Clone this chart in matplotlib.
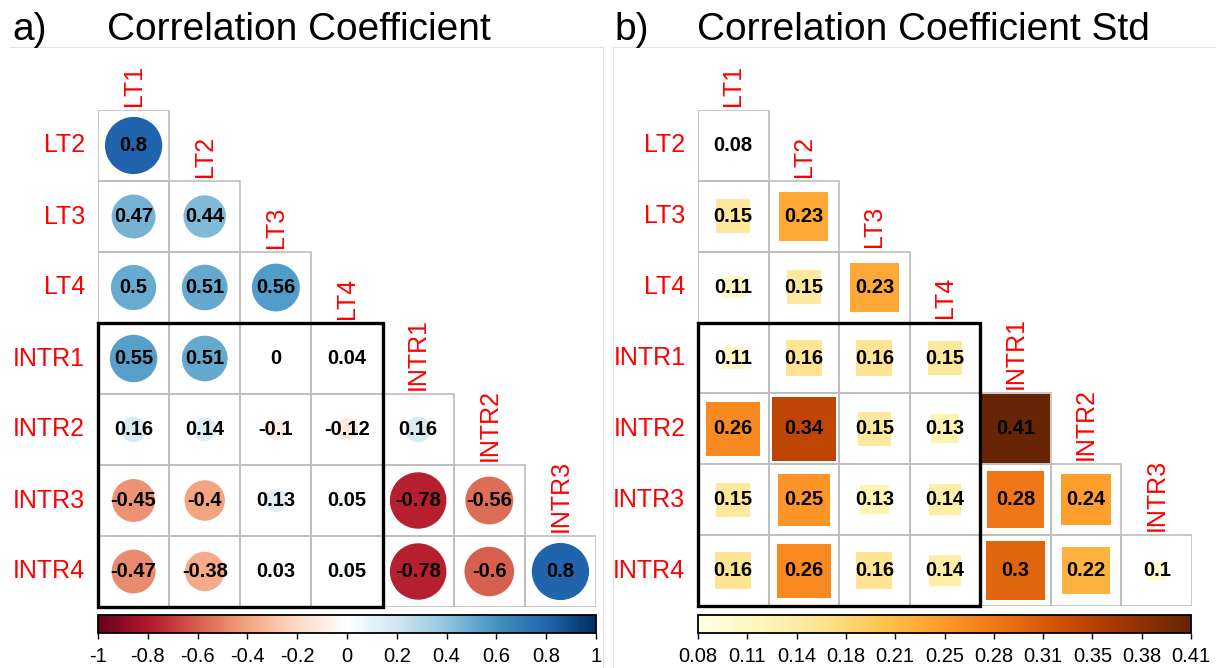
import matplotlib.pyplot as plt
import numpy as np
from matplotlib.colors import LinearSegmentedColormap, Normalize
from matplotlib.patches import Rectangle, Circle
from matplotlib.cm import ScalarMappable

plt.rcParams['font.family'] = ['Liberation Sans', 'DejaVu Sans']

labels = ['LT1', 'LT2', 'LT3', 'LT4', 'INTR1', 'INTR2', 'INTR3', 'INTR4']

# lower triangle, rows LT2..INTR4, columns LT1..
corr = [
    [0.8],
    [0.47, 0.44],
    [0.5, 0.51, 0.56],
    [0.55, 0.51, 0, 0.04],
    [0.16, 0.14, -0.1, -0.12, 0.16],
    [-0.45, -0.4, 0.13, 0.05, -0.78, -0.56],
    [-0.47, -0.38, 0.03, 0.05, -0.78, -0.6, 0.8],
]
corr_std = [
    [0.08],
    [0.15, 0.23],
    [0.11, 0.15, 0.23],
    [0.11, 0.16, 0.16, 0.15],
    [0.26, 0.34, 0.15, 0.13, 0.41],
    [0.15, 0.25, 0.13, 0.14, 0.28, 0.24],
    [0.16, 0.26, 0.16, 0.14, 0.3, 0.22, 0.1],
]
corr_ticks = [-1, -0.8, -0.6, -0.4, -0.2, 0, 0.2, 0.4, 0.6, 0.8, 1]
corr_ticklabels = ['-1', '-0.8', '-0.6', '-0.4', '-0.2', '0', '0.2', '0.4', '0.6', '0.8', '1']
std_lim = (0.078, 0.412)
std_ticklabels = ['0.08', '0.11', '0.14', '0.18', '0.21', '0.25', '0.28', '0.31', '0.35', '0.38', '0.41']

rdbu = LinearSegmentedColormap.from_list('rdbu', [
    '#67001F', '#B2182B', '#D6604D', '#F4A582', '#FDDBC7', '#FFFFFF',
    '#D1E5F0', '#92C5DE', '#4393C3', '#2166AC', '#053061'])
ylorbr = LinearSegmentedColormap.from_list('ylorbr', [
    '#FFFFE5', '#FFF7BC', '#FEE391', '#FEC44F', '#FE9929', '#EC7014',
    '#CC4C02', '#993404', '#662506'])

W, H = 1216, 668
fig = plt.figure(figsize=(W / 100, H / 100), dpi=100)


def px_axes(x0, y0, x1, y1):
    return fig.add_axes([x0 / W, 1 - y1 / H, (x1 - x0) / W, (y1 - y0) / H])


def draw_grid(ax, data):
    n = len(data)
    ax.set_xlim(0, n)
    ax.set_ylim(n, 0)
    ax.axis('off')
    for i, row in enumerate(data):
        for j in range(len(row)):
            ax.add_patch(Rectangle((j, i), 1, 1, fill=False, ec='#BEBEBE',
                                   lw=1.2, zorder=1))
    for i in range(n):
        ax.text(-0.18, i + 0.5, labels[i + 1], ha='right', va='center',
                color='red', fontsize=18)
        ax.text(i + 0.5, i - 0.06, labels[i], ha='center', va='bottom',
                rotation=90, color='red', fontsize=18)
    ax.add_patch(Rectangle((0, 3), 4, 4, fill=False, ec='black', lw=2.4,
                           zorder=5, clip_on=False))


def draw_cbar(x0, x1, cmap, norm, ticks, ticklabels):
    cax = px_axes(x0, 615, x1, 633)
    cb = fig.colorbar(ScalarMappable(norm=norm, cmap=cmap), cax=cax,
                      orientation='horizontal')
    cb.set_ticks(ticks)
    cb.set_ticklabels(ticklabels)
    cb.outline.set_linewidth(1.3)
    cax.tick_params(direction='out', length=4, width=1, labelsize=14.5, pad=6)


# a) correlation circles
ax1 = px_axes(98, 110, 596, 607)
draw_grid(ax1, corr)
norm1 = Normalize(-1, 1)
for i, row in enumerate(corr):
    for j, v in enumerate(row):
        r = 0.45 * np.sqrt(abs(v))
        if r > 0:
            ax1.add_patch(Circle((j + 0.5, i + 0.5), r, color=rdbu(norm1(v)),
                                 lw=0, zorder=2))
        ax1.text(j + 0.5, i + 0.5, f'{v:g}', ha='center', va='center',
                 fontsize=14.5, fontweight='bold', zorder=3)
draw_cbar(98, 596, rdbu, norm1, corr_ticks, corr_ticklabels)

# b) std squares
ax2 = px_axes(698, 110, 1192, 606)
draw_grid(ax2, corr_std)
norm2 = Normalize(*std_lim)
for i, row in enumerate(corr_std):
    for j, v in enumerate(row):
        s = min(1.03 * np.sqrt(norm2(v)), 0.97)
        ax2.add_patch(Rectangle((j + 0.5 - s / 2, i + 0.5 - s / 2), s, s,
                                color=ylorbr(norm2(v)), lw=0, zorder=2))
        ax2.text(j + 0.5, i + 0.5, f'{v:g}', ha='center', va='center',
                 fontsize=14.5, fontweight='bold', zorder=3)
draw_cbar(698, 1191, ylorbr, norm2, np.linspace(*std_lim, 11), std_ticklabels)

# panel titles and faint frames
fig.text(12 / W, 1 - 40 / H, 'a)', fontsize=28, va='baseline')
fig.text(107 / W, 1 - 40 / H, 'Correlation Coefficient', fontsize=28, va='baseline')
fig.text(614 / W, 1 - 40 / H, 'b)', fontsize=28, va='baseline')
fig.text(697 / W, 1 - 40 / H, 'Correlation Coefficient Std', fontsize=28, va='baseline')
line_kw = dict(color='#E3E3E3', lw=0.8, transform=fig.transFigure)
fig.lines.append(plt.Line2D([10 / W, 603 / W], [1 - 47 / H, 1 - 47 / H], **line_kw))
fig.lines.append(plt.Line2D([613 / W, 1], [1 - 47 / H, 1 - 47 / H], **line_kw))
fig.lines.append(plt.Line2D([603 / W, 603 / W], [0, 1 - 47 / H], **line_kw))
fig.lines.append(plt.Line2D([613 / W, 613 / W], [0, 1 - 47 / H], **line_kw))

fig.savefig('out.png', dpi=100)
